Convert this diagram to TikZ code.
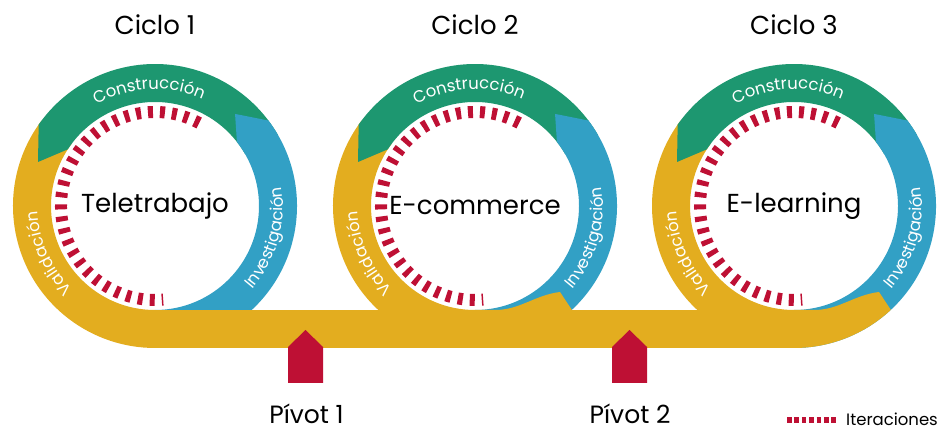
\documentclass[tikz,border=0pt]{standalone}
\usepackage{fontspec}
\setmainfont{Poppins}
\usetikzlibrary{calc,decorations.text}
\definecolor{verde}{RGB}{29,151,112}
\definecolor{azul}{RGB}{50,160,197}
\definecolor{amarillo}{RGB}{227,173,31}
\definecolor{rojo}{RGB}{190,16,52}
\newcommand{\etiqueta}{\color{white}\fontsize{16.5}{16.5}\selectfont}

\begin{document}
\begin{tikzpicture}[x=1pt, y=1pt,
    titulo/.style = {font=\fontsize{26}{26}\selectfont},
    tema/.style = {font=\fontsize{26}{26}\selectfont},
    pivote/.style = {font=\fontsize{25}{25}\selectfont, inner sep=0pt},
    iter/.style = {rojo, line width=12pt, dash pattern=on 5pt off 7pt},
    flecha/.style = {fill=rojo}]
	\useasboundingbox (0,0) rectangle (941,427);

	\coordinate (c1) at (155,221);
	\coordinate (c2) at (475,221);
	\coordinate (c3) at (794,221);

	% anillos
	\foreach \c in {c1,c2,c3} {
		\fill[amarillo] ($(\c)+(143:142pt)$) arc[start angle=143, end angle=270, radius=142pt]
			-- ($(\c)+(270:104pt)$) arc[start angle=270, end angle=143, radius=104pt] -- cycle;
		\fill[verde] ($(\c)+(145:142pt)$) arc[start angle=145, end angle=30, radius=142pt]
			-- ($(\c)+(30:104pt)$) arc[start angle=30, end angle=147, radius=104pt]
			-- ($(\c)+(-117pt,44pt)$) -- cycle;
		\fill[azul] ($(\c)+(37:142pt)$) arc[start angle=37, end angle=-90, radius=142pt]
			-- ($(\c)+(-90:104pt)$) arc[start angle=-90, end angle=38, radius=104pt]
			-- ($(\c)+(49:122pt)$) -- cycle;
	}

	% barra
	\fill[amarillo] ($(c1)+(0,-142pt)$) rectangle ($(c3)+(0,-104pt)$);
	\foreach \c in {c2,c3} {
		\fill[amarillo] ($(\c)+(270:142pt)$) arc[start angle=270, end angle=313, radius=142pt]
			-- ($(\c)+(85pt,-86pt)$) .. controls ($(\c)+(60pt,-89pt)$) and ($(\c)+(45pt,-104pt)$) .. ($(\c)+(20pt,-104pt)$)
			-- ($(\c)+(0,-104pt)$) -- cycle;
	}

	% iteraciones y etiquetas
	\foreach \c in {c1,c2,c3} {
		\draw[iter] ($(\c)+(62:94pt)$) arc[start angle=62, end angle=275, radius=94pt];
		\path[decorate, decoration={text along path, text align=center, text={|\etiqueta|Construcción}}]
			($(\c)+(153:117pt)$) arc[start angle=153, end angle=33, radius=117pt];
		\path[decorate, decoration={text along path, text align=center, text={|\etiqueta|Investigación}}]
			($(\c)+(-63:128pt)$) arc[start angle=-63, end angle=31, radius=128pt];
		\path[decorate, decoration={text along path, text align=center, text={|\etiqueta|Validación}}]
			($(\c)+(251:117pt)$) arc[start angle=251, end angle=157, radius=117pt];
	}

	\node[tema] (tele) at (c1) {Teletrabajo};
	\node[tema] (ecom) at (c2) {E-commerce};
	\node[tema] (elea) at (c3) {E-learning};

	\node[titulo] (ciclo1) at ($(c1)+(0,181pt)$) {Ciclo 1};
	\node[titulo] (ciclo2) at ($(c2)+(0,181pt)$) {Ciclo 2};
	\node[titulo] (ciclo3) at ($(c3)+(0,181pt)$) {Ciclo 3};

	% pivotes
	\coordinate (p1) at (305.5,97);
	\coordinate (p2) at (629.5,97);
	\foreach \p in {p1,p2}
		\fill[flecha] (\p) -- ++(17.5,-17) -- ++(0,-36) -- ++(-35,0) -- ++(0,36) -- cycle;
	\node[pivote] (piv1) at (306.5,13) {Pívot 1};
	\node[pivote] (piv2) at (630,13) {Pívot 2};

	% leyenda
	\coordinate (l1) at (787,7);
	\coordinate (l2) at (836,7);
	\draw[rojo, line width=6pt, dash pattern=on 4.5pt off 2.9pt] (l1) -- (l2);
	\node[anchor=west, inner sep=0pt, font=\fontsize{16.5}{16.5}\selectfont] (leyenda) at (846,7.5) {Iteraciones};
\end{tikzpicture}
\end{document}
